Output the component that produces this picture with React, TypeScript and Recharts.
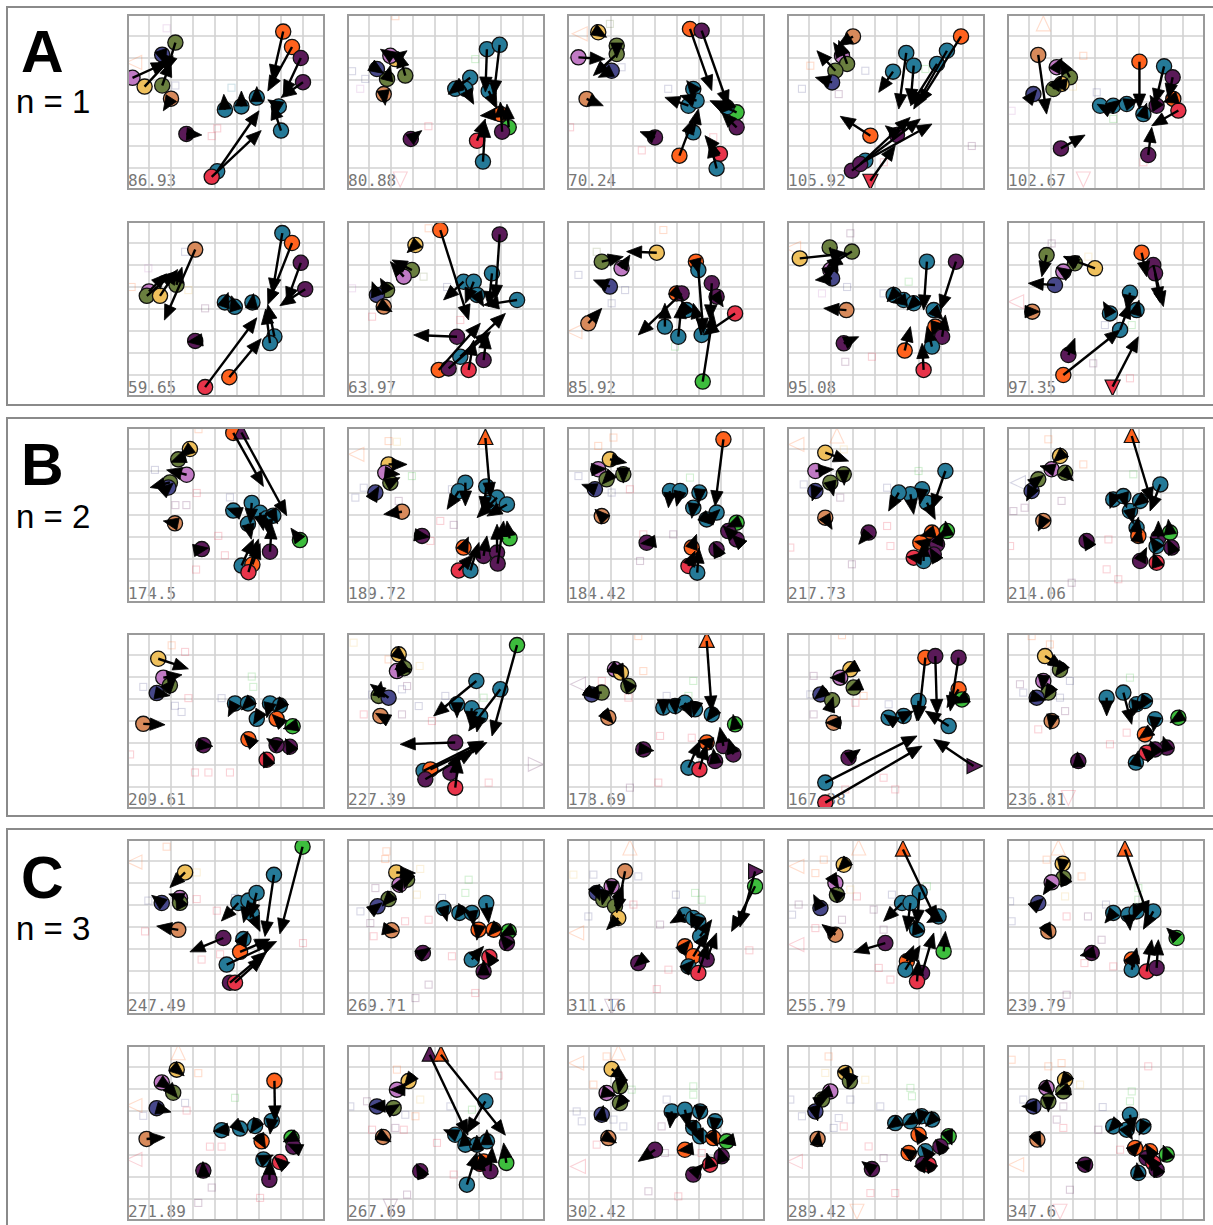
import React from 'react';
import { ScatterChart, Scatter, XAxis, YAxis, CartesianGrid, ReferenceLine } from 'recharts';

type P = any[];

const COL: Record<string, string> = {
  o: '#ff621d', t: '#257a98', p: '#5a1a58', g: '#6a7f3f', n: '#47488a',
  k: '#c07ac4', y: '#efc05c', b: '#d88a5b', r: '#e8344a', G: '#3dbd3d',
};

const XT = [0, 1, 2, 3, 4, 5, 6, 7, 8, 9];
const YT = [0, 1, 2, 3, 4, 5, 6, 7, 8];
const COLS = [127, 347, 567, 787, 1007];

const scoresA = ['86.93', '80.88', '70.24', '105.92', '102.67', '59.65', '63.97', '85.92', '95.08', '97.35'];
const scoresB = ['174.5', '189.72', '184.42', '217.73', '214.06', '209.61', '227.39', '178.69', '167.38', '236.81'];
const scoresC = ['247.49', '269.71', '311.16', '255.79', '239.79', '271.89', '267.69', '302.42', '289.42', '347.6'];

// point: [x, y, colour, arrowX, arrowY, marker?]
const A1: P[] = [[7.1,7.2,'o',6.6,5.0],[7.5,6.5,'o',6.4,4.5],[7.9,6.0,'p',7.1,4.3],[8.0,4.9,'p',7.0,4.2],[6.9,3.8,'t',6.4,4.1],[7.0,2.7,'t',6.6,3.9],[5.9,4.2,'t',5.9,4.7],[5.2,3.8,'t',5.2,4.5],[4.45,3.65,'t',4.4,4.35],[4.1,0.85,'t',6.0,3.6],[3.85,0.6,'r',6.1,2.7],[2.7,2.55,'p',3.4,2.5],[2.0,4.15,'b',1.65,3.6],[1.6,4.75,'g',2.0,5.85],[0.8,4.7,'y',2.1,6.1],[0.25,5.1,'k',1.8,5.8],[1.6,6.15,'n',1.75,5.7],[2.2,6.7,'g',1.8,5.4]];
const A1g: P[] = [[1.8,7.35,'k','s'],[2.2,4.75,'n','s'],[4.75,4.65,'t','s'],[4.1,2.8,'r','s'],[3.85,2.45,'r','s'],[0.35,5.8,'o','l']];
const A2: P[] = [[6.36,6.4,'t',6.29,4.45],[6.94,6.6,'t',6.67,4.3],[5.6,5.1,'t',4.7,4.45],[4.92,4.6,'t',4.6,4.35],[5.38,4.6,'t',5.76,3.9],[6.44,4.5,'t',6.82,3.7],[6.97,3.45,'o',6.06,3.38],[7.35,2.85,'G',7.27,3.9],[7.05,2.65,'p',6.97,4.0],[5.91,2.24,'r',6.29,3.23],[6.18,1.29,'t',6.29,3.08],[2.9,2.32,'p',3.4,2.7],[1.67,4.36,'b',1.74,3.85],[1.82,5.05,'g',1.97,5.65],[1.36,5.5,'n',1.67,5.3],[2.65,5.2,'g',2.35,6.26],[2.2,5.95,'y',2.73,6.33],[1.97,6.1,'k',1.52,6.4]];
const A2g: P[] = [[0.23,5.4,'n','s'],[0.6,4.6,'k','s'],[0.83,5.05,'n','s'],[5.83,5.95,'G','s'],[3.7,2.9,'r','s'],[2.42,0.5,'r','d'],[2.2,7.9,'o','s']];
const A3: P[] = [[1.42,7.17,'y',1.8,6.94],[0.52,6.03,'k',1.73,5.95],[2.26,6.56,'g',2.26,6.0],[2.26,6.18,'g',1.2,5.2],[2.03,5.42,'n',1.42,5.12],[0.89,4.14,'b',1.65,3.83],[5.59,7.32,'o',6.58,4.52],[6.12,7.24,'p',7.33,3.83],[5.74,4.59,'t',5.44,4.97],[5.52,3.83,'t',4.45,4.21],[5.89,4.06,'t',5.14,4.29],[7.71,3.53,'G',6.5,4.06],[7.26,3.76,'t',7.0,3.5],[7.71,2.85,'p',7.03,3.53],[5.74,2.62,'t',5.97,3.68],[5.11,1.56,'o',5.74,3.23],[6.95,1.64,'r',6.27,2.47],[6.8,0.98,'t',6.5,2.17],[4.0,2.39,'p',3.32,2.65]];
const A3g: P[] = [[0.6,7.1,'o','l'],[2.48,5.58,'n','s'],[4.6,4.6,'n','s'],[0.14,2.85,'r','s'],[3.4,1.8,'r','s'],[6.65,2.4,'r','s'],[1.95,7.55,'g','s']];
const A4: P[] = [[7.91,6.98,'o',5.98,3.91],[7.27,6.33,'t',5.76,3.68],[6.82,5.73,'t',5.61,3.83],[5.42,6.23,'t',5.08,3.68],[5.76,5.65,'t',5.61,3.91],[4.82,5.38,'t',4.17,4.44],[3.0,6.98,'b',2.3,6.55],[2.5,6.1,'k',2.12,6.7],[2.73,5.73,'g',2.35,6.8],[2.2,5.42,'g',1.36,6.33],[2.05,4.89,'n',1.29,5.12],[3.79,2.47,'o',2.42,3.35],[5.0,2.5,'p',4.47,2.92],[3.56,1.33,'t',6.59,3.0],[2.95,0.88,'p',6.06,3.23],[3.33,1.18,'p',5.6,3.3],[3.79,0.42,'r',4.92,2.02,'d']];
const A4g: P[] = [[0.68,4.6,'n','s'],[2.35,4.36,'p','s'],[3.56,5.42,'n','s'],[6.29,5.5,'G','s'],[8.4,2.0,'p','s'],[4.4,1.26,'r','s'],[1.06,5.65,'o','s']];
const A5: P[] = [[1.42,6.14,'b',1.8,3.45],[2.26,5.58,'k',2.5,6.0],[2.86,5.12,'g',2.41,5.95],[2.48,4.82,'y',2.03,4.9],[2.11,4.59,'g',2.5,5.2],[1.2,4.36,'n',1.35,4.55],[2.45,1.89,'p',3.55,2.5],[6.02,5.83,'o',6.02,3.68],[7.14,5.62,'t',6.73,3.91],[7.53,5.12,'p',7.33,4.14],[4.23,3.83,'t',4.1,3.9],[4.83,3.83,'t',5.2,4.1],[5.44,3.91,'t',6.0,4.1],[6.2,3.45,'t',6.35,3.95],[7.56,4.14,'o',7.1,4.0],[6.8,3.83,'p',6.5,4.3],[7.79,3.61,'r',6.58,2.92],[6.42,1.59,'p',6.58,2.85]];
const A5g: P[] = [[1.65,7.55,'o','u'],[3.47,0.5,'r','d'],[3.47,6.1,'o','s'],[4.08,4.44,'n','s'],[0.21,3.6,'k','s'],[4.83,3.23,'G','s'],[3.0,4.7,'y','s'],[6.2,1.26,'r','s']];
const A6: P[] = [[7.06,7.45,'t',6.6,4.7],[7.5,7.0,'o',6.4,4.2],[7.9,6.1,'p',7.25,4.3],[8.1,4.9,'p',6.95,4.15],[4.45,4.3,'t',4.6,4.75],[4.9,4.1,'t',4.75,4.6],[5.7,4.3,'t',5.75,4.7],[6.7,2.75,'t',6.4,4.2],[6.5,2.45,'t',6.3,4.0],[4.65,0.9,'o',6.1,2.65],[3.55,0.45,'r',5.9,3.6],[3.1,2.55,'p',2.75,2.5],[3.1,6.7,'b',1.7,3.5],[1.0,4.8,'k',1.8,5.6],[0.9,4.6,'g',2.2,5.7],[1.5,4.6,'y',2.3,5.8],[2.25,5.1,'g',2.5,5.9]];
const A6g: P[] = [[0.97,5.85,'k','s'],[0.21,5.0,'o','s'],[3.55,4.03,'p','s'],[2.79,4.86,'y','s'],[2.64,6.6,'n','s']];
const A7: P[] = [[4.24,7.59,'o',5.53,3.5],[6.94,7.39,'p',6.74,4.41],[3.11,6.91,'y',2.73,6.56],[2.95,5.77,'g',2.05,6.23],[2.58,5.47,'k',1.97,6.15],[1.82,4.86,'g',1.52,5.39],[1.36,4.64,'n',1.14,5.24],[1.67,4.11,'b',2.05,3.88],[6.59,5.62,'t',6.44,4.11],[5.3,5.24,'t',4.39,4.41],[5.76,5.24,'t',5.38,4.26],[5.91,4.64,'t',6.21,4.11],[7.73,4.41,'t',6.21,4.18],[5.0,2.74,'p',3.03,2.82],[5.15,1.83,'t',7.2,3.8],[4.17,1.23,'o',6.06,3.35],[4.62,1.3,'p',6.52,2.97],[5.53,1.23,'r',5.76,2.59],[6.21,1.68,'p',6.36,2.89]];
const A7g: P[] = [[0.23,4.94,'k','s'],[1.14,3.65,'r','s'],[3.48,5.47,'g','s'],[4.55,5.0,'n','s'],[5.15,3.5,'r','s'],[3.71,7.67,'o','s']];
const A8: P[] = [[4.08,6.56,'y',2.71,6.61],[1.58,6.15,'g',2.56,6.38],[2.48,5.85,'k',2.86,6.45],[1.95,5.02,'n',1.2,5.32],[0.97,3.35,'b',1.58,4.03],[5.86,6.15,'o',6.0,5.6],[5.97,5.77,'t',6.2,2.89],[6.58,5.17,'p',6.5,3.5],[6.8,4.56,'p',7.1,4.1],[4.98,4.71,'o',5.3,4.4],[5.21,4.71,'p',3.24,2.82],[7.64,3.8,'r',6.2,2.82],[4.45,3.2,'t',4.45,4.26],[5.06,2.74,'t',5.21,4.26],[6.12,2.82,'t',5.74,4.26],[5.44,3.95,'t',5.2,4.4],[6.17,0.7,'G',6.65,3.8]];
const A8g: P[] = [[4.38,7.59,'o','s'],[0.52,5.55,'n','s'],[1.35,6.6,'g','s'],[2.64,4.86,'n','s'],[2.03,4.26,'n','s'],[4.91,2.29,'G','s'],[0.36,2.97,'o','l']];
const A9: P[] = [[0.58,6.3,'y',2.73,6.53],[1.94,6.8,'g',2.27,5.62],[2.95,6.61,'g',1.82,5.92],[1.97,5.77,'k',2.3,6.0],[2.05,5.39,'n',1.29,5.32],[2.7,3.95,'b',1.67,4.03],[2.58,2.44,'p',3.26,2.74],[6.36,6.15,'t',6.21,3.95],[7.68,6.15,'p',6.97,3.95],[4.85,4.64,'t',4.55,4.33],[5.3,4.41,'t',4.75,4.3],[5.76,4.26,'t',5.45,3.95],[6.67,3.95,'t',7.1,3.5],[6.74,3.2,'o',6.6,2.75],[7.05,2.74,'p',7.2,3.73],[6.59,2.29,'t',6.36,3.2],[5.35,2.11,'o',5.61,3.2],[6.21,1.23,'r',6.14,2.44]];
const A9g: P[] = [[2.88,7.44,'p','s'],[5.53,5.24,'G','s'],[4.39,4.71,'n','s'],[1.59,4.71,'k','s'],[2.73,5.0,'n','s'],[3.86,1.83,'r','s'],[2.65,1.6,'p','s'],[0.3,6.76,'o','l']];
const A10: P[] = [[1.8,6.45,'g',1.58,5.47],[4.0,5.85,'y',2.56,6.38],[3.09,6.08,'g',2.6,6.4],[2.56,5.7,'k',2.25,5.9],[2.18,5.09,'n',0.97,5.17],[1.15,3.88,'b',1.5,3.88],[6.12,6.56,'o',6.35,5.47],[6.65,6.0,'p',7.11,4.11],[6.73,5.62,'p',6.95,4.3],[5.59,4.74,'t',5.44,3.95],[4.68,3.8,'t',4.38,4.33],[5.14,3.05,'t',5.59,4.26],[5.89,3.95,'t',6.0,4.4],[2.79,1.91,'p',3.09,2.67],[2.56,1.0,'o',5.14,3.05],[4.8,0.47,'r',5.97,2.74,'d']];
const A10g: P[] = [[0.44,4.33,'r','l'],[2.03,6.98,'p','s'],[3.92,1.53,'p','s'],[5.59,0.85,'r','s'],[4.45,3.27,'n','s'],[5.67,3.27,'G','s'],[3.7,6.38,'y','s']];

const B1: P[] = [[4.83,7.73,'o',6.2,5.3],[5.2,7.75,'p',7.26,3.97,'u'],[7.86,2.86,'G',7.45,3.4],[4.83,4.2,'t',4.55,4.3],[5.67,4.55,'t',5.6,3.6],[6.05,4.1,'t',6.2,3.3],[6.35,3.85,'t',6.45,3.1],[5.5,3.6,'t',5.65,2.9],[6.65,3.97,'t',6.85,3.6],[6.5,2.33,'p',6.58,3.6],[5.21,1.7,'t',5.75,2.9],[5.7,1.75,'o',6.05,2.7],[5.52,1.4,'r',5.97,2.9],[3.4,2.45,'p',3.7,2.5],[2.18,3.62,'b',1.65,3.73],[2.86,7.0,'y',2.4,6.65],[2.33,6.53,'g',2.0,6.4],[2.71,5.83,'k',1.8,6.05],[1.95,5.48,'g',1.05,5.25],[1.88,5.25,'n',2.1,5.45]];
const B1g: P[] = [[3.25,7.9,'o','s'],[1.27,6.05,'n','s'],[3.17,5.0,'r','s'],[2.2,4.45,'p','s'],[2.7,4.45,'p','s'],[4.15,3.05,'r','s'],[4.45,2.17,'r','s'],[3.14,1.52,'r','s'],[4.68,4.8,'n','s']];
const B2: P[] = [[6.29,7.5,'o',6.52,4.79,'u'],[5.38,5.47,'t',5.38,4.41],[5.08,5.08,'t',4.55,4.26],[6.33,5.3,'t',6.21,4.14],[6.82,4.79,'t',5.91,3.88],[7.27,4.48,'t',6.36,3.95],[6.44,4.56,'t',6.1,4.0],[7.39,2.94,'G',7.27,3.73],[5.3,2.52,'o',5.52,3.0],[6.21,2.14,'p',6.36,3.05],[6.82,2.29,'p',6.82,3.58],[6.85,1.79,'p',7.12,3.73],[5.08,1.48,'r',5.76,2.21],[5.61,1.48,'t',6.0,2.75],[3.41,3.05,'p',3.75,3.0],[2.5,4.15,'b',1.67,4.03],[1.89,6.3,'y',2.73,6.3],[1.74,5.92,'k',2.4,5.85],[1.97,5.47,'g',2.4,5.7],[1.29,5.02,'n',1.45,5.3]];
const B2g: P[] = [[0.45,6.76,'o','l'],[1.89,7.36,'o','s'],[2.27,7.33,'y','s'],[2.95,5.77,'G','s'],[0.76,5.24,'n','s'],[0.38,4.79,'n','s'],[2.35,4.64,'p','s'],[4.24,3.73,'r','s'],[4.85,3.55,'p','s'],[3.79,2.82,'r','s'],[4.77,5.17,'n','s']];
const B3: P[] = [[7.11,7.44,'o',6.73,4.41],[1.95,6.53,'y',2.71,6.38],[1.42,6.08,'k',1.8,6.1],[2.56,5.85,'g',2.56,5.45],[1.8,5.62,'g',1.6,5.4],[1.27,5.17,'n',0.67,5.39],[1.58,3.95,'b',1.27,4.26],[4.68,5.09,'t',4.61,4.33],[5.14,5.09,'t',4.98,4.4],[6.02,5.02,'t',5.97,4.5],[5.74,4.33,'t',5.67,3.85],[6.8,4.11,'t',6.95,4.25],[6.35,3.8,'t',6.65,3.55],[7.71,3.65,'G',7.25,3.45],[7.33,3.27,'p',7.1,3.5],[7.71,2.89,'p',7.5,3.1],[6.8,2.44,'p',6.65,2.75],[5.67,2.52,'o',5.89,3.12],[5.52,1.68,'r',5.82,2.36],[5.92,1.38,'t',6.0,2.5],[3.62,2.74,'p',3.35,2.7]];
const B3g: P[] = [[2.11,7.52,'o','s'],[1.42,7.14,'o','s'],[0.52,5.77,'n','s'],[2.03,5.02,'n','s'],[2.86,5.17,'r','s'],[5.59,5.7,'G','s'],[3.47,3.12,'r','s'],[4.83,3.12,'p','s'],[3.32,1.91,'p','s']];
const B4: P[] = [[1.74,6.83,'y',2.8,6.45],[1.29,6.0,'k',2.12,6.08],[2.58,5.85,'g',2.6,5.35],[1.97,5.47,'g',2.12,4.86],[1.29,5.09,'n',1.14,4.64],[1.74,3.88,'b',2.05,3.35],[3.71,3.2,'p',3.26,2.67],[7.2,6.0,'t',6.59,4.26],[6.14,5.17,'t',6.05,4.5],[5.61,4.94,'t',5.76,4.03],[5.08,5.02,'t',4.62,4.18],[6.36,4.56,'t',6.74,3.8],[6.59,3.2,'o',6.06,3.05],[7.27,3.27,'G',7.2,3.73],[6.82,2.67,'p',7.1,3.3],[6.67,2.21,'p',6.5,2.5],[5.76,2.06,'r',5.45,2.1],[6.21,1.91,'t',6.21,2.8],[6.06,2.74,'o',5.8,2.8]];
const B4g: P[] = [[0.45,7.21,'o','l'],[2.27,7.59,'o','u'],[2.58,6.98,'y','s'],[0.76,5.39,'n','s'],[2.42,4.79,'p','s'],[4.55,5.24,'n','s'],[5.98,6.0,'G','s'],[4.55,3.5,'r','s'],[4.7,2.59,'r','s'],[2.95,1.76,'p','s'],[0.15,2.52,'r','s']];
const B5: P[] = [[5.67,7.59,'o',6.58,4.56,'u'],[2.41,6.68,'y',2.1,6.4],[2.03,6.08,'k',1.5,6.23],[2.64,5.92,'g',3.02,5.55],[1.42,5.62,'g',1.65,5.8],[1.12,5.09,'n',0.89,4.64],[1.65,3.73,'b',1.42,3.27],[3.62,2.82,'p',3.45,3.1],[6.97,5.39,'t',6.5,4.18],[4.83,4.71,'t',4.68,4.3],[5.29,4.86,'t',5.44,4.33],[6.05,4.64,'t',5.74,4.4],[5.59,4.18,'t',5.74,3.6],[5.89,3.42,'t',5.97,3.9],[5.97,3.05,'o',6.05,3.45],[6.88,2.97,'p',6.88,3.73],[7.41,3.2,'G',7.33,3.8],[6.8,2.59,'t',6.5,3.0],[7.48,2.52,'p',7.3,2.9],[6.05,1.91,'p',6.35,2.52],[6.8,1.83,'r',6.65,2.3]];
const B5g: P[] = [[0.52,5.47,'n','l'],[3.47,6.3,'o','s'],[1.88,7.44,'o','s'],[0.29,4.18,'p','s'],[0.8,4.33,'p','s'],[2.48,4.64,'p','s'],[4.61,2.89,'r','s'],[4.53,1.53,'r','s'],[5.06,1.08,'r','s'],[2.94,0.92,'p','s'],[5.74,5.85,'G','s'],[0.14,2.59,'r','s']];
const B6: P[] = [[1.42,6.83,'y',2.79,6.37],[1.65,5.97,'k',2.5,6.1],[1.95,5.62,'g',2.2,5.9],[1.35,5.27,'n',1.95,5.15],[0.74,3.87,'b',1.73,3.83],[3.47,2.9,'p',3.9,2.85],[4.91,4.8,'t',4.6,4.2],[5.5,4.8,'t',5.2,4.5],[6.5,4.8,'t',6.35,4.15],[6.95,4.7,'t',6.7,4.4],[5.9,4.1,'t',5.75,3.85],[6.8,4.1,'o',6.6,4.3],[7.53,3.76,'G',7.1,3.65],[7.4,2.83,'p',7.2,3.2],[5.52,3.17,'o',5.3,3.4],[6.8,2.9,'p',6.35,3.2],[6.35,2.24,'r',6.2,2.6]];
const B6g: P[] = [[2.03,7.44,'o','s'],[2.64,7.14,'r','s'],[0.74,5.55,'n','s'],[2.18,4.69,'n','s'],[2.48,4.41,'n','s'],[2.79,5.04,'r','s'],[3.09,1.66,'r','s'],[3.7,1.66,'r','s'],[4.68,1.66,'r','s'],[5.67,6.02,'G','s'],[5.74,5.55,'G','s'],[4.3,5.04,'n','s'],[0.14,2.48,'r','s']];
const B7: P[] = [[7.73,7.45,'G',6.59,3.32],[2.35,7.03,'y',2.7,6.75],[2.27,6.27,'k',2.95,6.35],[2.6,6.4,'g',2.9,6.2],[1.44,5.14,'g',1.55,5.8],[1.89,5.06,'n',1.06,5.67],[1.52,4.23,'b',1.3,4.35],[5.88,5.82,'t',3.94,4.23],[6.97,5.44,'t',5.53,3.55],[5.0,4.76,'t',5.0,4.15],[5.67,4.58,'t',5.6,3.75],[6.05,4.23,'t',5.9,3.5],[4.92,3.02,'p',2.42,2.94],[3.48,1.73,'t',6.21,3.09],[3.79,1.8,'o',6.36,3.02],[3.56,1.35,'p',5.76,2.64],[4.7,1.65,'p',5.15,2.55],[4.92,0.97,'r',5.08,2.33]];
const B7g: P[] = [[8.56,2.03,'p','r'],[0.3,7.56,'y','s'],[1.89,6.8,'o','s'],[3.3,6.5,'y','s'],[2.73,5.59,'p','s'],[2.5,5.44,'n','s'],[1.14,5.2,'n','s'],[3.26,4.68,'n','s'],[2.5,4.3,'p','s'],[0.76,4.3,'r','s'],[3.86,4.0,'r','s'],[4.47,5.14,'n','s'],[6.21,5.06,'G','s'],[6.44,1.2,'r','s']];
const B8: P[] = [[6.35,7.64,'o',6.58,4.45,'u'],[2.18,6.35,'k',2.55,6.1],[2.45,6.2,'y',2.6,5.9],[2.79,5.59,'g',2.5,5.95],[1.58,5.29,'g',0.74,5.29],[1.12,5.21,'n',1.4,5.0],[1.88,4.15,'b',2.1,3.9],[3.47,2.71,'p',3.95,2.65],[4.38,4.61,'t',4.38,4.3],[4.91,4.68,'t',4.95,4.3],[5.36,4.83,'t',5.67,4.15],[5.82,4.53,'t',5.75,4.2],[6.58,4.3,'t',6.35,4.0],[7.64,3.85,'G',7.55,4.3],[6.35,3.02,'o',5.95,3.1],[7.11,2.86,'p',6.95,3.71],[7.56,2.48,'p',7.35,3.2],[6.73,2.18,'p',6.65,2.75],[5.52,1.88,'t',6.05,3.1],[6.02,1.8,'r',6.35,2.94]];
const B8g: P[] = [[0.52,5.67,'p','l'],[3.24,7.86,'o','s'],[3.47,6.27,'o','s'],[5.74,5.82,'G','s'],[5.52,5.14,'G','s'],[4.53,5.14,'n','s'],[2.79,5.06,'r','s'],[4.23,3.32,'r','s'],[5.67,3.24,'r','s'],[4.15,1.2,'r','s'],[2.86,0.97,'p','s'],[1.58,5.82,'r','s']];
const B9: P[] = [[6.29,6.88,'o',5.97,4.0],[6.74,6.95,'p',6.82,4.3],[7.8,6.88,'p',7.42,4.45],[7.8,5.44,'o',7.27,4.61],[7.95,4.98,'G',7.6,4.8],[2.88,6.35,'y',2.6,6.2],[2.42,5.97,'k',1.95,5.97],[3.03,5.52,'g',2.75,5.4],[1.52,5.21,'n',1.25,5.0],[2.05,4.94,'g',2.1,5.1],[2.12,3.92,'b',1.75,3.92],[2.8,2.33,'p',3.33,2.71],[4.62,4.15,'t',4.4,4.3],[5.3,4.23,'t',5.75,4.45],[5.98,4.91,'t',5.9,4.0],[7.35,3.77,'t',6.29,4.45],[1.74,1.2,'t',5.91,3.32],[1.74,0.29,'r',6.14,2.86],[8.48,1.95,'p',6.67,3.17,'r']];
const B9g: P[] = [[2.5,7.9,'o','s'],[1.21,6.05,'p','s'],[1.06,5.21,'n','s'],[3.48,5.14,'o','s'],[3.11,4.83,'r','s'],[1.21,4.3,'p','s'],[4.62,4.76,'n','s'],[4.39,1.42,'r','s'],[4.92,0.89,'r','s'],[2.65,0.89,'r','s']];
const B10: P[] = [[1.73,6.95,'y',2.56,6.42],[2.41,6.33,'g',2.2,6.05],[1.65,5.82,'k',1.6,5.4],[1.88,5.29,'g',1.7,5.0],[1.35,5.06,'n',1.75,4.95],[2.03,4.0,'b',1.95,3.6],[3.24,2.18,'p',3.2,2.6],[4.53,5.06,'t',4.53,4.23],[5.29,5.29,'t',5.67,3.85],[5.89,4.76,'t',5.75,4.25],[6.27,4.91,'t',6.0,4.5],[6.73,4.08,'t',6.65,3.5],[7.79,4.15,'G',7.41,3.92],[6.27,3.39,'o',6.0,3.2],[7.26,2.79,'p',7.1,3.3],[6.73,2.71,'p',6.5,3.1],[6.35,2.56,'r',6.1,2.8],[5.86,2.11,'t',5.97,2.65]];
const B10g: P[] = [[2.79,0.52,'r','d'],[1.12,7.86,'o','s'],[1.95,7.48,'o','s'],[5.59,5.97,'G','s'],[0.59,5.67,'p','s'],[0.74,5.29,'n','s'],[2.41,5.06,'n','s'],[2.64,4.45,'p','s'],[1.42,3.62,'r','s'],[2.86,5.82,'n','s'],[5.44,3.47,'r','s'],[4.68,2.94,'r','s']];

const C1: P[] = [[7.98,7.65,'G',6.95,3.69],[6.68,6.37,'t',6.27,3.57],[2.64,6.48,'y',1.95,5.79],[2.41,5.32,'k',1.9,5.5],[2.41,5.1,'g',2.2,5.5],[1.58,5.09,'n',1.12,5.44],[2.33,3.87,'b',1.35,4.04],[4.38,3.5,'p',2.86,2.87],[5.06,5.09,'t',4.29,4.27],[5.52,5.2,'t',5.3,4.2],[5.89,5.55,'t',5.6,4.4],[5.67,4.62,'t',6.05,3.8],[5.29,3.45,'t',5.5,3.8],[5.14,2.87,'o',6.5,3.45],[4.53,2.29,'t',6.8,3.34],[4.68,1.47,'p',6.35,2.87],[4.91,1.47,'r',6.2,2.64]];
const C1g: P[] = [[0.36,6.95,'o','l'],[1.8,7.65,'o','s'],[3.17,6.48,'y','s'],[0.97,5.2,'n','s'],[3.17,5.27,'r','s'],[4.08,4.74,'r','s'],[4.91,5.32,'n','s'],[0.82,3.8,'r','s'],[3.39,2.52,'r','s'],[4.23,2.76,'r','s'],[8.0,3.27,'r','s']];
const C2: P[] = [[2.24,6.48,'y',3.11,6.45],[2.73,6.15,'g',2.6,5.75],[2.39,5.92,'k',2.6,6.3],[1.89,5.27,'g',1.6,4.95],[1.39,4.94,'n',1.6,5.1],[2.03,3.85,'b',2.3,3.8],[3.45,2.82,'p',3.8,3.05],[4.39,4.86,'t',4.55,4.26],[5.11,4.64,'t',4.9,4.35],[5.68,4.64,'t',5.76,4.05],[6.33,5.09,'t',6.44,4.18],[5.98,3.88,'o',5.9,3.4],[6.67,3.88,'o',6.4,3.6],[7.35,3.8,'G',6.95,3.6],[7.27,3.27,'p',6.95,3.65],[5.67,2.52,'t',6.21,3.12],[6.47,2.64,'r',6.3,2.9],[6.21,1.98,'p',6.21,2.5]];
const C2g: P[] = [[1.79,7.44,'o','s'],[1.74,7.09,'o','s'],[3.33,6.64,'y','s'],[5.53,6.15,'G','s'],[5.38,5.55,'G','s'],[1.29,5.77,'p','s'],[3.18,5.47,'y','s'],[0.61,4.71,'n','s'],[2.64,4.26,'r','s'],[3.71,4.33,'r','s'],[1.21,3.58,'r','s'],[4.32,5.32,'n','s'],[4.77,2.67,'r','s'],[3.71,1.38,'p','s'],[5.83,1.0,'r','s'],[3.11,0.77,'p','s'],[1.06,4.18,'p','s']];
const C3: P[] = [[8.55,6.53,'p',7.86,4.0,'r'],[8.55,5.85,'G',7.48,3.8],[2.64,6.53,'b',2.26,4.64],[2.03,5.85,'k',2.0,5.4],[1.35,5.55,'n',1.5,5.2],[1.65,5.24,'g',1.6,5.0],[2.18,4.94,'g',2.55,5.9],[2.33,4.41,'y',1.8,3.88],[3.24,2.36,'p',3.05,2.2],[5.36,4.56,'t',4.68,4.18],[5.74,4.41,'t',5.6,4.7],[5.97,4.26,'t',5.85,3.8],[6.05,3.58,'t',6.58,4.33],[5.36,3.12,'o',5.6,3.4],[5.74,2.67,'o',6.4,3.75],[6.35,2.52,'p',6.8,3.73],[5.52,2.21,'t',5.8,2.5],[5.97,1.91,'r',6.42,3.27]];
const C3g: P[] = [[2.86,7.59,'o','u'],[0.44,3.73,'o','l'],[2.03,0.39,'p','d'],[0.29,6.38,'y','s'],[1.2,6.38,'n','s'],[3.24,6.3,'n','s'],[4.95,5.47,'n','s'],[5.82,5.55,'G','s'],[6.12,5.24,'G','s'],[3.02,5.02,'r','s'],[0.97,4.48,'n','s'],[4.23,4.11,'p','s'],[8.29,2.94,'r','s'],[4.61,2.06,'r','s'],[4.08,1.18,'r','s']];
const C4: P[] = [[5.27,7.52,'o',6.82,4.26,'u'],[2.58,6.83,'y',2.3,6.55],[2.2,6.0,'k',2.35,5.75],[2.27,5.47,'g',1.95,5.75],[1.52,4.86,'n',1.21,5.47],[2.2,3.65,'b',1.59,4.11],[4.47,3.27,'p',3.03,2.85],[6.03,5.58,'t',5.9,4.1],[5.23,5.09,'t',4.39,4.26],[5.61,5.09,'t',5.45,3.8],[6.89,4.48,'t',6.35,4.2],[5.91,3.88,'t',5.75,4.35],[7.12,2.89,'G',7.2,3.8],[5.45,2.44,'o',5.76,3.15],[5.38,2.06,'t',6.05,3.15],[6.14,1.91,'p',6.67,3.73],[5.91,1.53,'r',5.98,2.5]];
const C4g: P[] = [[3.26,7.59,'o','u'],[0.45,6.76,'o','l'],[0.45,3.2,'r','l'],[1.67,7.06,'o','s'],[1.29,6.45,'o','s'],[2.88,5.7,'y','s'],[3.18,5.39,'r','s'],[0.53,5.02,'p','s'],[0.23,4.56,'n','s'],[2.5,4.33,'p','s'],[1.29,3.95,'r','s'],[3.94,4.79,'p','s'],[4.77,5.47,'n','s'],[6.36,5.85,'G','s'],[4.17,2.14,'r','s'],[4.7,1.61,'r','s'],[4.39,3.88,'p','s']];
const C5: P[] = [[5.36,7.52,'o',6.42,4.48,'u'],[2.53,6.88,'y',2.45,6.4],[2.56,6.23,'g',2.4,6.55],[2.03,6.03,'k',1.65,5.47],[1.42,5.09,'n',1.65,5.3],[1.88,3.8,'b',2.05,3.5],[3.85,2.82,'p',3.32,2.7],[4.83,4.64,'t',4.45,4.18],[5.52,4.56,'t',5.6,3.85],[5.89,4.71,'t',5.74,4.33],[6.65,4.71,'t',6.2,3.9],[7.71,3.5,'G',7.26,3.95],[5.67,2.52,'o',5.9,2.9],[5.67,2.06,'t',5.9,3.05],[6.35,1.98,'r',6.58,3.42],[6.8,2.14,'p',6.88,3.42]];
const C5g: P[] = [[2.33,7.59,'o','u'],[1.8,7.06,'o','s'],[3.39,6.3,'o','s'],[0.14,5.17,'n','s'],[0.21,4.26,'n','s'],[2.64,5.39,'y','s'],[2.71,4.48,'r','s'],[3.68,4.48,'p','s'],[4.3,3.42,'p','s'],[4.5,5.02,'n','s'],[5.97,5.77,'G','s'],[5.97,5.24,'G','s'],[3.52,2.36,'r','s'],[4.83,2.21,'r','s'],[2.71,0.92,'p','s']];
const C6: P[] = [[6.7,6.37,'o',6.73,4.55],[2.26,6.88,'y',2.6,6.6],[1.58,6.3,'k',2.05,6.0],[2.1,5.83,'g',2.3,5.6],[1.35,5.13,'n',2.0,4.95],[0.89,3.73,'b',1.73,3.8],[3.47,2.29,'p',3.45,2.7],[4.3,4.13,'t',3.92,4.08],[5.14,4.2,'t',5.35,4.0],[5.82,4.32,'t',5.6,4.0],[6.58,4.55,'t',6.5,3.95],[7.48,3.78,'G',7.1,3.6],[6.12,3.62,'o',6.3,3.3],[7.56,3.38,'p',7.3,3.5],[6.2,2.8,'t',6.65,3.0],[6.95,2.68,'r',6.7,2.9],[6.47,1.87,'p',6.5,2.8]];
const C6g: P[] = [[2.33,7.65,'o','u'],[0.36,5.25,'o','l'],[0.36,2.8,'r','l'],[3.24,6.72,'o','s'],[0.74,4.78,'n','s'],[2.64,5.37,'n','s'],[2.71,5.02,'r','s'],[3.77,3.38,'r','s'],[4.3,3.38,'r','s'],[3.85,1.52,'p','s'],[3.24,0.82,'p','s'],[4.91,5.6,'G','s'],[6.05,1.05,'r','s']];
const C7: P[] = [[3.76,7.56,'p',5.5,3.9,'u'],[4.27,7.56,'o',7.2,3.9,'u'],[2.8,6.36,'y',2.6,6.1],[2.27,5.97,'k',1.95,5.97],[2.12,5.14,'g',2.4,5.3],[1.36,5.21,'n',1.05,5.2],[1.64,3.82,'b',2.0,3.6],[3.33,2.26,'p',3.15,2.6],[6.29,5.44,'t',5.45,4.0],[4.92,3.92,'t',4.39,4.15],[5.38,3.47,'t',5.3,4.1],[5.91,3.47,'t',5.9,3.9],[6.36,3.62,'t',6.36,4.15],[6.05,2.6,'r',6.1,3.0],[6.21,2.71,'o',6.0,3.1],[6.52,2.26,'p',6.6,3.35],[7.24,2.64,'G',7.12,3.55],[5.45,1.65,'t',5.91,3.12]];
const C7g: P[] = [[1.97,0.67,'p','d'],[6.89,6.61,'r','s'],[2.27,6.88,'o','s'],[3.33,5.52,'y','s'],[0.91,5.44,'p','s'],[0.15,5.21,'n','s'],[4.7,5.21,'n','s'],[5.68,5.06,'G','s'],[2.65,4.83,'n','s'],[3.11,4.76,'o','s'],[2.2,4.23,'p','s'],[2.58,4.15,'r','s'],[1.14,4.15,'r','s'],[4.09,3.55,'r','s'],[4.85,2.11,'r','s'],[2.73,1.2,'p','s']];
const C8: P[] = [[2.03,6.91,'y',2.71,6.42],[2.41,6.12,'g',2.35,5.8],[1.8,5.82,'k',2.25,5.7],[2.41,5.36,'g',2.2,5.1],[1.58,4.83,'n',1.65,5.25],[1.88,3.77,'b',2.25,3.55],[4.0,3.24,'p',3.24,2.71],[4.76,4.98,'t',4.68,4.23],[5.36,5.06,'t',5.55,4.2],[6.05,4.98,'t',6.0,4.55],[6.73,4.53,'t',6.65,4.0],[5.74,4.23,'t',5.9,3.85],[6.05,3.85,'t',6.2,3.5],[5.36,3.24,'o',5.05,3.2],[6.65,3.77,'o',6.85,3.4],[7.26,3.62,'G',6.95,3.55],[7.03,2.94,'p',6.9,3.35],[6.5,2.56,'r',6.35,3.09],[5.74,2.11,'p',6.2,2.6]];
const C8g: P[] = [[2.33,7.64,'o','u'],[0.44,7.18,'o','l'],[0.52,2.48,'r','l'],[1.8,7.48,'o','s'],[1.2,6.2,'o','s'],[2.94,5.97,'G','s'],[5.74,6.12,'G','s'],[5.74,5.74,'G','s'],[4.53,5.52,'n','s'],[0.44,4.98,'n','s'],[0.67,4.53,'n','s'],[2.11,4.61,'n','s'],[2.56,4.3,'n','s'],[1.35,3.47,'r','s'],[4.3,4.3,'p','s'],[4.45,3.09,'p','s'],[6.12,3.09,'r','s'],[3.7,1.35,'p','s'],[5.06,1.12,'r','s']];
const C9: P[] = [[2.65,6.73,'y',2.85,6.3],[2.86,6.35,'g',2.75,6.0],[1.97,5.89,'k',1.36,5.67],[1.59,5.52,'g',1.9,5.7],[1.29,4.98,'n',1.4,4.55],[1.39,3.73,'b',1.45,4.1],[3.86,2.36,'p',3.4,2.7],[4.92,4.45,'t',4.55,4.2],[5.61,4.53,'t',5.3,4.35],[6.12,4.76,'t',6.0,4.35],[6.59,4.61,'t',6.3,4.3],[5.98,3.92,'o',5.8,4.2],[7.35,3.85,'G',7.5,3.45],[6.97,3.39,'p',6.75,3.7],[5.53,3.09,'o',5.2,3.3],[6.29,3.17,'t',6.1,3.4],[6.2,2.6,'p',6.4,2.9],[6.44,2.56,'r',6.2,2.85]];
const C9g: P[] = [[3.18,0.44,'o','d'],[0.38,2.71,'r','l'],[1.89,7.48,'o','s'],[1.74,6.73,'y','s'],[3.56,6.42,'y','s'],[2.88,5.52,'n','s'],[5.61,6.05,'G','s'],[5.68,5.67,'G','s'],[4.24,5.21,'n','s'],[0.15,5.52,'n','s'],[0.68,4.76,'n','s'],[2.35,4.68,'n','s'],[2.58,4.3,'r','s'],[2.12,4.23,'n','s'],[3.71,3.39,'r','s'],[4.39,2.86,'p','s'],[3.79,1.27,'r','s'],[4.92,1.27,'r','s']];
const C10: P[] = [[2.64,6.42,'y',2.4,6.1],[1.8,6.05,'k',2.1,5.75],[2.56,5.89,'g',2.2,5.75],[1.88,5.44,'g',1.88,4.95],[1.2,5.21,'n',0.67,5.21],[1.38,3.7,'b',1.55,3.35],[3.55,2.56,'p',3.1,2.65],[4.83,4.3,'t',4.6,4.05],[5.59,4.83,'t',5.75,4.0],[6.2,4.3,'t',6.0,3.9],[5.44,4.15,'t',5.7,3.7],[5.82,3.32,'o',6.1,3.6],[6.5,3.17,'o',6.3,3.5],[7.26,3.02,'G',7.1,3.45],[6.35,2.86,'p',6.0,3.0],[6.65,2.64,'r',6.4,3.0],[6.8,2.33,'p',6.6,2.7],[5.97,2.18,'t',5.9,2.65]];
const C10g: P[] = [[2.41,0.44,'r','d'],[0.44,2.56,'o','l'],[0.21,7.33,'o','s'],[2.48,7.18,'o','s'],[1.88,7.03,'o','s'],[6.42,7.03,'r','s'],[3.32,6.2,'y','s'],[5.67,5.89,'G','s'],[5.59,5.44,'G','s'],[2.56,5.21,'p','s'],[0.74,5.52,'n','s'],[4.35,5.18,'n','s'],[2.26,4.61,'p','s'],[2.56,4.23,'r','s'],[4.15,4.15,'p','s'],[5.14,3.24,'r','s'],[2.86,1.42,'p','s']];

const SECTIONS = [
  { letter: 'A', n: 'n = 1', top: 7, bottom: 405, letterY: 72, nY: 113, rows: [14, 221], scores: scoresA,
    pts: [A1, A2, A3, A4, A5, A6, A7, A8, A9, A10], gh: [A1g, A2g, A3g, A4g, A5g, A6g, A7g, A8g, A9g, A10g] },
  { letter: 'B', n: 'n = 2', top: 418, bottom: 816, letterY: 485, nY: 528, rows: [427, 633], scores: scoresB,
    pts: [B1, B2, B3, B4, B5, B6, B7, B8, B9, B10], gh: [B1g, B2g, B3g, B4g, B5g, B6g, B7g, B8g, B9g, B10g] },
  { letter: 'C', n: 'n = 3', top: 829, bottom: 1240, letterY: 898, nY: 940, rows: [839, 1045], scores: scoresC,
    pts: [C1, C2, C3, C4, C5, C6, C7, C8, C9, C10], gh: [C1g, C2g, C3g, C4g, C5g, C6g, C7g, C8g, C9g, C10g] },
];

function ArrowShape(props: any) {
  const { x1, y1, x2, y2 } = props;
  if ([x1, y1, x2, y2].some((v) => typeof v !== 'number' || isNaN(v))) return <g />;
  const dx = x2 - x1, dy = y2 - y1;
  const L = Math.hypot(dx, dy) || 1;
  const ux = dx / L, uy = dy / L;
  const HL = 15, HW = 6.2;
  const bx = x2 - ux * HL, by = y2 - uy * HL;
  const px = -uy * HW, py = ux * HW;
  return (
    <g>
      {L > HL && <line x1={x1} y1={y1} x2={bx + ux * 2} y2={by + uy * 2} stroke="#000" strokeWidth={2.4} />}
      <polygon points={`${x2},${y2} ${bx + px},${by + py} ${bx - px},${by - py}`} fill="#000" stroke="#000" strokeWidth={0.8} strokeLinejoin="round" />
    </g>
  );
}

function Dot(props: any) {
  const { cx, cy, payload } = props;
  if (typeof cx !== 'number' || typeof cy !== 'number') return <g />;
  const col = COL[payload.c];
  const m = payload.m;
  if (m === 'u') return <polygon points={`${cx},${cy - 9} ${cx - 7.5},${cy + 6.5} ${cx + 7.5},${cy + 6.5}`} fill={col} stroke="#111" strokeWidth={1.2} />;
  if (m === 'd') return <polygon points={`${cx},${cy + 9} ${cx - 7.5},${cy - 6.5} ${cx + 7.5},${cy - 6.5}`} fill={col} stroke="#111" strokeWidth={1.2} />;
  if (m === 'r') return <polygon points={`${cx + 9},${cy} ${cx - 6.5},${cy - 7.5} ${cx - 6.5},${cy + 7.5}`} fill={col} stroke="#111" strokeWidth={1.2} />;
  return <circle cx={cx} cy={cy} r={7.6} fill={col} stroke="#111" strokeWidth={1.3} />;
}

function Ghost(props: any) {
  const { cx, cy, payload } = props;
  if (typeof cx !== 'number' || typeof cy !== 'number') return <g />;
  const col = COL[payload.c];
  const m = payload.m;
  const st = { fill: 'none', stroke: col, strokeOpacity: 0.22, strokeWidth: 1.1 };
  if (m === 'l') return <polygon points={`${cx - 8},${cy} ${cx + 7},${cy - 7} ${cx + 7},${cy + 7}`} {...st} />;
  if (m === 'r') return <polygon points={`${cx + 8},${cy} ${cx - 7},${cy - 7} ${cx - 7},${cy + 7}`} {...st} />;
  if (m === 'u') return <polygon points={`${cx},${cy - 8} ${cx - 7},${cy + 7} ${cx + 7},${cy + 7}`} {...st} />;
  if (m === 'd') return <polygon points={`${cx},${cy + 8} ${cx - 7},${cy - 7} ${cx + 7},${cy - 7}`} {...st} />;
  return <rect x={cx - 3.5} y={cy - 3.5} width={7} height={7} {...st} />;
}

function Panel({ pts, gh, score, left, top }: any) {
  const data = pts.map((p: P) => ({ x: p[0], y: p[1], c: p[2], m: p[5] || '' }));
  const gdata = gh.map((g: P) => ({ x: g[0], y: g[1], c: g[2], m: g[3] }));
  return (
    <div style={{ position: 'absolute', left, top, width: 198, height: 176, overflow: 'hidden' }}>
      <div style={{ position: 'absolute', left: 1, top: 158, fontFamily: '"DejaVu Sans Mono", monospace', fontSize: 16, lineHeight: '18px', color: '#777', whiteSpace: 'nowrap' }}>{score}</div>
      <div style={{ position: 'absolute', left: 0, top: 0 }}>
        <ScatterChart width={198} height={176} margin={{ top: 0, right: 0, bottom: 0, left: 0 }}>
          <CartesianGrid stroke="#d2d2d2" strokeWidth={1.6} />
          <XAxis type="number" dataKey="x" domain={[0, 9]} ticks={XT} interval={0} hide />
          <YAxis type="number" dataKey="y" domain={[0, 8]} ticks={YT} interval={0} hide />
          <Scatter data={gdata} shape={Ghost} isAnimationActive={false} />
          <Scatter data={data} shape={Dot} isAnimationActive={false} />
          {pts.map((p: P, i: number) => (
            <ReferenceLine key={i} segment={[{ x: p[0], y: p[1] }, { x: p[3], y: p[4] }]} ifOverflow="visible" shape={ArrowShape} zIndex={1000} />
          ))}
        </ScatterChart>
      </div>
      <div style={{ position: 'absolute', left: 0, top: 0, width: 198, height: 176, boxSizing: 'border-box', border: '2px solid #9a9a9a', pointerEvents: 'none' }} />
    </div>
  );
}

export default function App() {
  return (
    <div style={{ position: 'absolute', left: 0, top: 0, width: 1213, height: 1225, overflow: 'hidden', background: '#fff' }}>
      <svg width={1213} height={1225} style={{ position: 'absolute', left: 0, top: 0 }}>
        {SECTIONS.map((s) => (
          <g key={s.letter}>
            <rect x={7} y={s.top} width={1230} height={s.bottom - s.top} fill="none" stroke="#8a8a8a" strokeWidth={2} />
            <text x={21} y={s.letterY} fontFamily='"Liberation Sans", Arial, sans-serif' fontWeight="bold" fontSize={59} fill="#000">{s.letter}</text>
            <text x={16} y={s.nY} fontFamily='"Liberation Sans", Arial, sans-serif' fontSize={33} fill="#000">{s.n}</text>
          </g>
        ))}
      </svg>
      {SECTIONS.map((s) =>
        s.pts.map((pts, i) => (
          <Panel key={s.letter + i} pts={pts} gh={s.gh[i]} score={s.scores[i]} left={COLS[i % 5]} top={s.rows[Math.floor(i / 5)]} />
        ))
      )}
    </div>
  );
}
